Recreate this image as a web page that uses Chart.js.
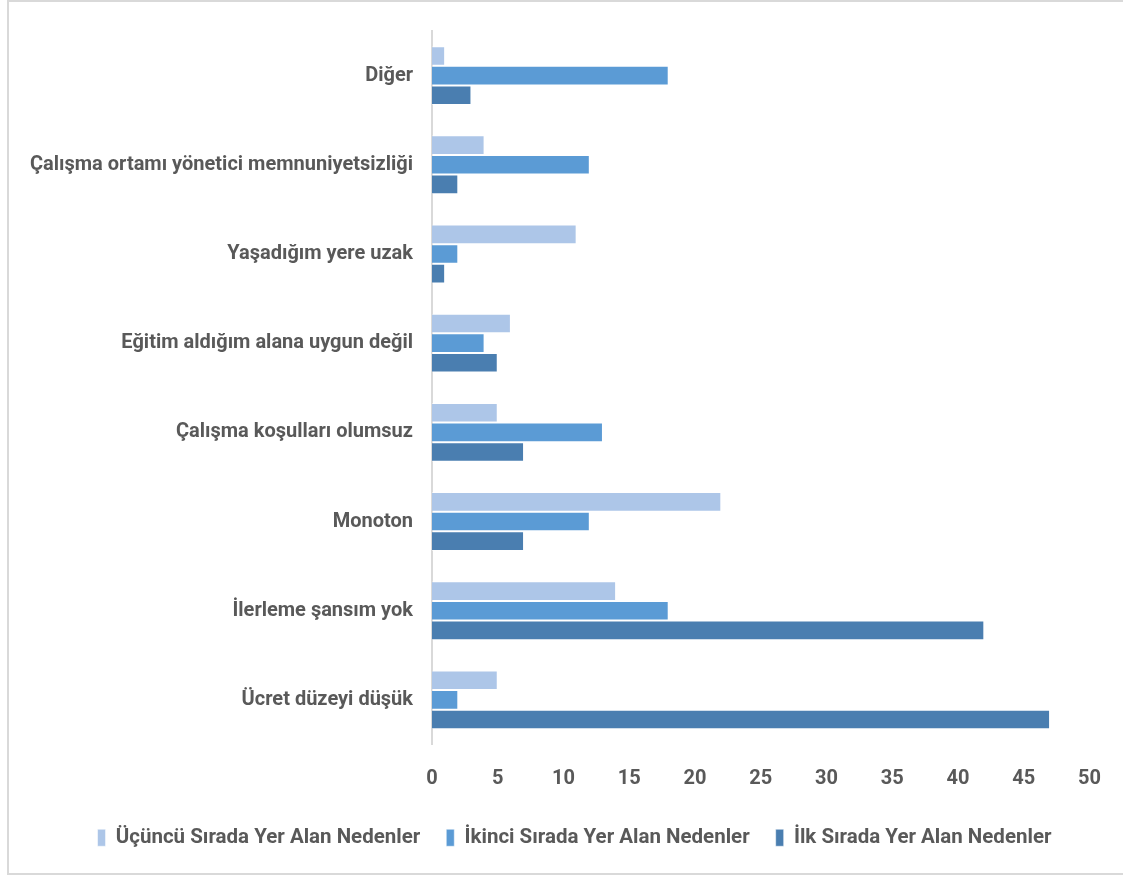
<!DOCTYPE html>
<html>
<head>
<meta charset="utf-8">
<script src="https://cdn.jsdelivr.net/npm/chart.js@4/dist/chart.umd.min.js"></script>
<style>
  html, body { margin: 0; padding: 0; background: #fff; }
  #wrap { position: relative; width: 1123px; height: 877px; overflow: hidden; }
  #frame { position: absolute; left: 7px; top: 0; width: 1130px; height: 875px; border: 2px solid #d9d9d9; box-sizing: border-box; pointer-events: none; }
  canvas { position: absolute; left: 0; top: 0; }
</style>
</head>
<body>
<div id="wrap">
  <canvas id="chart" width="1123" height="877"></canvas>
  <div id="frame"></div>
</div>
<script>
const categories = [
  'Diğer',
  'Çalışma ortamı yönetici memnuniyetsizliği',
  'Yaşadığım yere uzak',
  'Eğitim aldığım alana uygun değil',
  'Çalışma koşulları olumsuz',
  'Monoton',
  'İlerleme şansım yok',
  'Ücret düzeyi düşük'
];
const seriesNames = [
  'Üçüncü Sırada Yer Alan Nedenler',
  'İkinci Sırada Yer Alan Nedenler',
  'İlk Sırada Yer Alan Nedenler'
];
const ucuncu = [1, 4, 11, 6, 5, 22, 14, 5];
const ikinci = [18, 12, 2, 4, 13, 12, 18, 2];
const ilk = [3, 2, 1, 5, 7, 7, 42, 47];
const xTicks = [0, 5, 10, 15, 20, 25, 30, 35, 40, 45, 50];

const colors = ['#adc6e8', '#5b9bd5', '#4a7eb0'];
const fontFamily = "'Roboto', 'Liberation Sans', sans-serif";
const textColor = '#595959';

// nudge the legend to the right, under the bars
const legendShift = {
  id: 'legendShift',
  afterLayout(chart) {
    chart.legend.left += 28;
    chart.legend.right += 28;
  }
};

const ctx = document.getElementById('chart').getContext('2d');
new Chart(ctx, {
  type: 'bar',
  data: {
    labels: categories,
    datasets: [ucuncu, ikinci, ilk].map((vals, i) => ({
      label: seriesNames[i],
      data: vals,
      backgroundColor: colors[i],
      borderColor: 'rgba(255,255,255,0.5)',
      borderWidth: 1,
      barPercentage: 1.0,
      categoryPercentage: 0.66
    }))
  },
  options: {
    indexAxis: 'y',
    responsive: false,
    animation: false,
    layout: { padding: { top: 30, right: 30, bottom: 19, left: 0 } },
    scales: {
      x: {
        min: 0,
        max: 50,
        afterBuildTicks: (scale) => { scale.ticks = xTicks.map(v => ({ value: v })); },
        afterFit: (scale) => { scale.height = 57; },
        grid: { display: false, drawTicks: false },
        border: { display: false },
        ticks: { padding: 22, color: textColor, font: { family: fontFamily, size: 20, weight: 'bold' } }
      },
      y: {
        afterFit: (scale) => { scale.width = 432; },
        grid: { display: false, drawTicks: false },
        border: { display: true, color: '#d9d9d9', width: 2 },
        ticks: { padding: 19, color: textColor, font: { family: fontFamily, size: 20, weight: 'bold' } }
      }
    },
    plugins: {
      legend: {
        position: 'bottom',
        labels: {
          boxWidth: 8,
          boxHeight: 17,
          padding: 26,
          color: textColor,
          font: { family: fontFamily, size: 20.5, weight: 'bold' }
        }
      },
      tooltip: { enabled: false }
    }
  },
  plugins: [legendShift]
});
</script>
</body>
</html>
